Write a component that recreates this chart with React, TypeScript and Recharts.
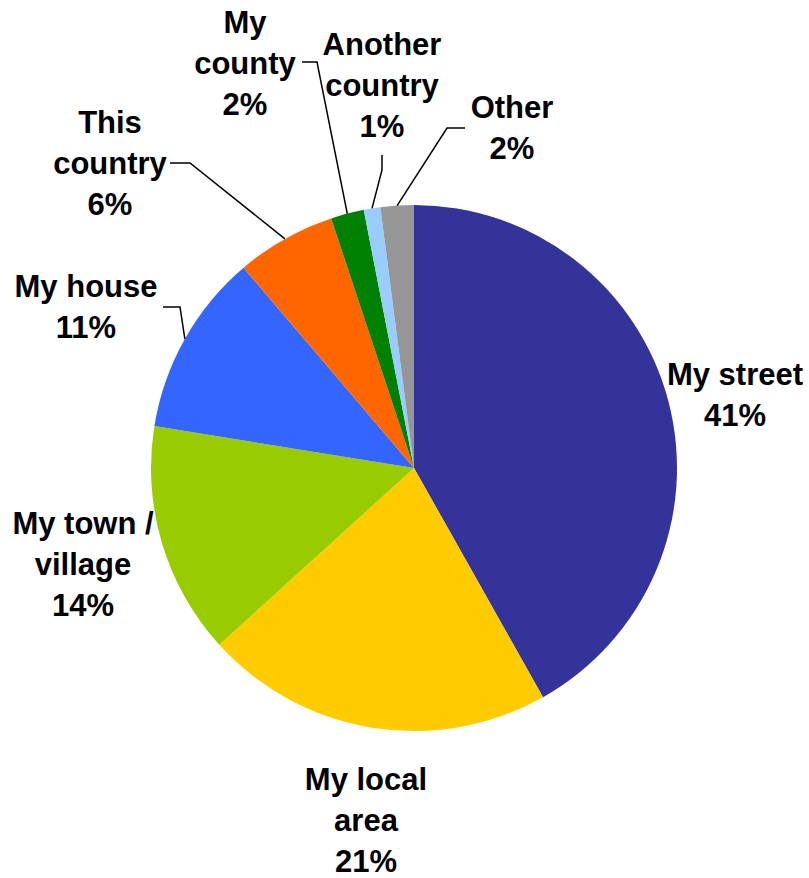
import { PieChart, Pie, Cell } from 'recharts'

const CATEGORIES = [
  'My street',
  'My local\narea',
  'My town /\nvillage',
  'My house',
  'This\ncountry',
  'My\ncounty',
  'Another\ncountry',
  'Other',
]
const SHARES = [41, 21, 14, 11, 6, 2, 1, 2]
const COLORS = ['#333399', '#FFCC00', '#99CC00', '#3366FF', '#FF6600', '#008000', '#99CCFF', '#969696']

const data = CATEGORIES.map((name, i) => ({ name, value: SHARES[i] }))

// where each label block sits (text centre x, first baseline y) and its leader elbow
const LABEL_LAYOUT: { x: number; y: number; leader?: [number, number, number, number] }[] = [
  { x: 735, y: 385 },
  { x: 366, y: 790 },
  { x: 83, y: 534 },
  { x: 86, y: 297, leader: [163, 307, 180, 307] },
  { x: 110, y: 133, leader: [170, 163, 190, 163] },
  { x: 245, y: 33, leader: [302, 62, 317, 62] },
  { x: 382, y: 55, leader: [382, 155, 382, 170] },
  { x: 512, y: 118, leader: [465, 128, 447, 128] },
]

const LINE_H = 41
const RAD = Math.PI / 180

function renderLabel(props: any) {
  const { cx, cy, midAngle, outerRadius, index, name, value } = props
  const pos = LABEL_LAYOUT[index]
  const lines = [...String(name).split('\n'), `${value}%`]
  let leader = null
  if (pos.leader) {
    const [x1, y1, x2, y2] = pos.leader
    const ex = cx + outerRadius * Math.cos(-midAngle * RAD)
    const ey = cy + outerRadius * Math.sin(-midAngle * RAD)
    leader = (
      <polyline
        points={`${x1},${y1} ${x2},${y2} ${ex},${ey}`}
        fill="none"
        stroke="#000"
        strokeWidth={1.5}
      />
    )
  }
  return (
    <g key={`label-${index}`}>
      {leader}
      <text
        x={pos.x}
        y={pos.y}
        textAnchor="middle"
        fill="#000"
        fontFamily="'Liberation Sans', Arial, sans-serif"
        fontWeight="bold"
        fontSize={31}
      >
        {lines.map((ln, i) => (
          <tspan key={i} x={pos.x} y={pos.y + i * LINE_H}>
            {ln}
          </tspan>
        ))}
      </text>
    </g>
  )
}

export default function App() {
  return (
    <div style={{ position: 'absolute', left: 0, top: 0, background: '#fff' }}>
      <PieChart width={809} height={878} margin={{ top: 0, right: 0, bottom: 0, left: 0 }}>
        <Pie
          data={data}
          dataKey="value"
          nameKey="name"
          cx={414}
          cy={468}
          outerRadius={263}
          startAngle={90}
          endAngle={-270}
          stroke="none"
          label={renderLabel}
          labelLine={false}
          isAnimationActive={false}
        >
          {data.map((_, i) => (
            <Cell key={`cell-${i}`} fill={COLORS[i]} />
          ))}
        </Pie>
      </PieChart>
    </div>
  )
}
